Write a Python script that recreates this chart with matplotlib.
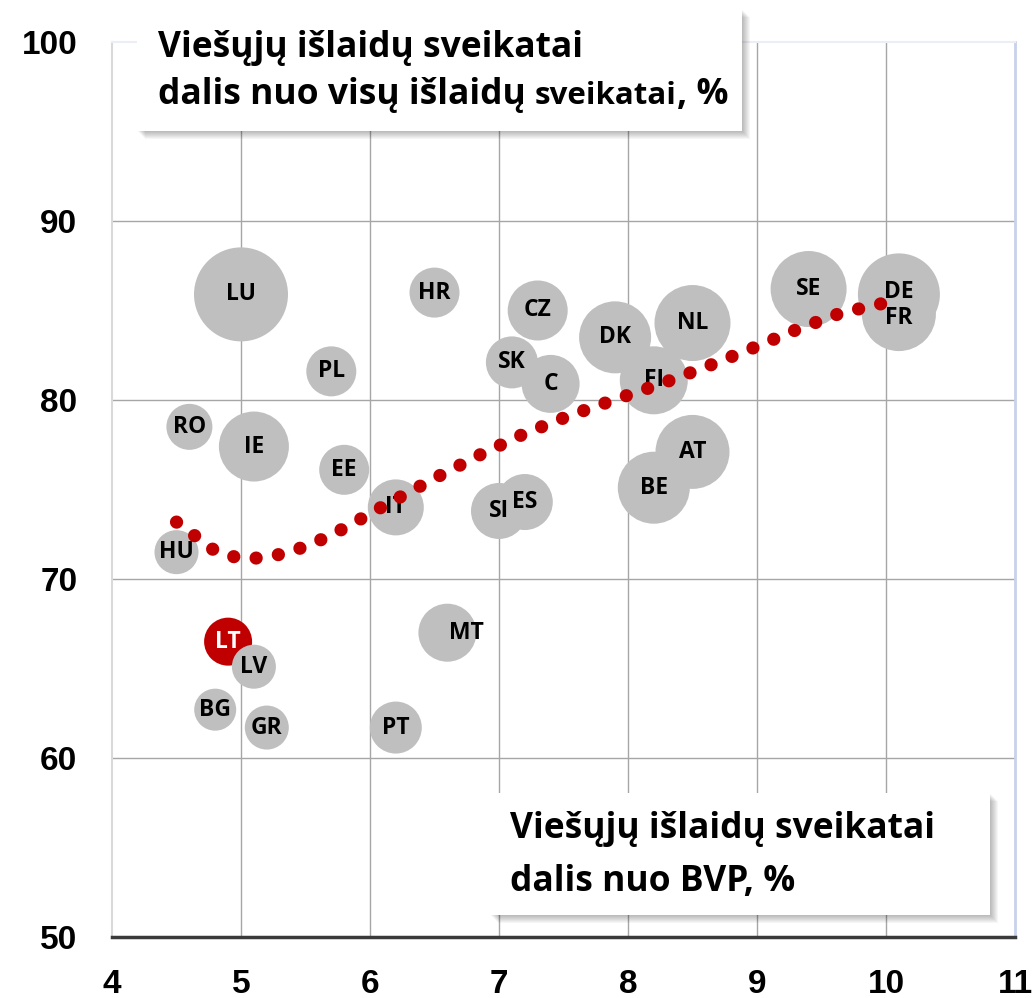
import numpy as np
import matplotlib
matplotlib.use('Agg')
import matplotlib.pyplot as plt
from matplotlib.patches import Rectangle

# country codes, x = public health spending % of GDP, y = public share of total health spending
countries = ['LU', 'HR', 'CZ', 'DK', 'NL', 'SK', 'C', 'FI', 'AT', 'BE', 'SI', 'ES',
             'SE', 'DE', 'FR', 'RO', 'IE', 'EE', 'PL', 'IT', 'HU', 'LT', 'LV', 'MT',
             'BG', 'GR', 'PT']
gdp_share = [5.0, 6.5, 7.3, 7.9, 8.5, 7.1, 7.4, 8.2, 8.5, 8.2, 7.0, 7.2,
             9.4, 10.1, 10.1, 4.6, 5.1, 5.8, 5.7, 6.2, 4.5, 4.9, 5.1, 6.6,
             4.8, 5.2, 6.2]
public_share = [85.9, 86.0, 85.0, 83.5, 84.3, 82.1, 80.9, 81.1, 77.1, 75.1, 73.8, 74.3,
                86.2, 85.9, 84.8, 78.5, 77.4, 76.1, 81.6, 74.0, 71.5, 66.5, 65.1, 67.0,
                62.7, 61.7, 61.7]
bubble_r = [47, 25, 30, 36, 38, 26, 29, 34, 37, 36, 28, 28,
            38, 41, 37, 23, 35, 25, 25, 28, 22, 24, 22, 29,
            21, 22, 26]

# polynomial trend line
trend_x = [4.50, 4.80, 4.98, 5.16, 5.35, 5.53, 5.70, 5.86, 6.02, 6.19, 6.52,
           6.85, 7.19, 7.54, 7.89, 8.25, 8.60, 8.95, 9.30, 9.65, 10.02]
trend_y = [73.18, 71.56, 71.17, 71.17, 71.45, 71.90, 72.46, 73.07, 73.74, 74.41, 75.70,
           76.93, 78.10, 79.11, 80.00, 80.89, 81.84, 82.85, 83.91, 84.86, 85.47]

x_ticks = [4, 5, 6, 7, 8, 9, 10, 11]
y_ticks = [50, 60, 70, 80, 90, 100]

W, H = 1033, 998
fig = plt.figure(figsize=(W / 100, H / 100), dpi=100)
ax = fig.add_axes([112 / W, 1 - 937 / H, (1015 - 112) / W, (937 - 42) / H])
ax.set_xlim(4, 11)
ax.set_ylim(50, 100)

# grid (inner lines only)
ax.vlines(x_ticks[1:-1], 50, 100, color='#A6A6A6', lw=1.0, zorder=0)
ax.hlines(y_ticks[1:-1], 4, 11, color='#A6A6A6', lw=1.0, zorder=0)

ax.spines['left'].set_color('#D9D9D9')
ax.spines['left'].set_linewidth(1.5)
ax.spines['bottom'].set_color('#3A3A3A')
ax.spines['bottom'].set_linewidth(2.5)
ax.spines['top'].set_color('#ECEEF5')
ax.spines['top'].set_linewidth(1.5)
ax.spines['right'].set_color('#C8D2EA')
ax.spines['right'].set_linewidth(2)

ax.set_xticks(x_ticks)
ax.set_yticks(y_ticks)
ax.tick_params(length=0, labelsize=24)
ax.tick_params(axis='x', pad=23)
ax.tick_params(axis='y', pad=25)
for lab in ax.get_xticklabels() + ax.get_yticklabels():
    lab.set_fontfamily('Liberation Sans')
    lab.set_fontweight('bold')

# bubbles
colors = ['#C00000' if c == 'LT' else '#BFBFBF' for c in countries]
sizes = [(1.44 * r) ** 2 for r in bubble_r]
ax.scatter(gdp_share, public_share, s=sizes, c=colors, linewidths=0, zorder=2)

label_shift = {'MT': (14, 0), 'DE': (0, 2), 'FR': (0, -3)}
for c, x, y in zip(countries, gdp_share, public_share):
    dx, dy = label_shift.get(c, (0, 0))
    ax.annotate(c, (x, y), xytext=(dx, dy), textcoords='offset points',
                ha='center', va='center', fontsize=16.5, fontweight='bold',
                family='Open Sans', color='white' if c == 'LT' else 'black', zorder=3)

# trend line
ax.plot(trend_x, trend_y, color='#C00000', lw=9.5, linestyle=(0, (0.01, 1.7)),
        dash_capstyle='round', zorder=4)


def text_box(x0, y0, x1, y1):
    # soft shadow to the lower right
    for i in range(8, 0, -1):
        fig.patches.append(Rectangle(((x0 + i) / W, 1 - (y1 + i) / H), (x1 - x0) / W, (y1 - y0) / H,
                                     transform=fig.transFigure, facecolor='black',
                                     alpha=0.035, edgecolor='none', zorder=5))
    fig.patches.append(Rectangle((x0 / W, 1 - y1 / H), (x1 - x0) / W, (y1 - y0) / H,
                                 transform=fig.transFigure, facecolor='white',
                                 edgecolor='none', zorder=6))


text_box(137, 9, 742, 131)
text_box(490, 793, 990, 915)

fs = 25.5
tkw = dict(family='Open Sans', fontweight='bold', va='baseline', ha='left', zorder=7)
fig.text(158 / W, 1 - 57 / H, 'Viešųjų išlaidų sveikatai', fontsize=fs, **tkw)
t1 = fig.text(158 / W, 1 - 104 / H, 'dalis nuo visų išlaidų ', fontsize=fs, **tkw)
fig.canvas.draw()
r = fig.canvas.get_renderer()
x2 = t1.get_window_extent(r).x1
t2 = fig.text(x2 / W, 1 - 104 / H, 'sveikatai', fontsize=fs - 3, **tkw)
x3 = t2.get_window_extent(r).x1
fig.text(x3 / W, 1 - 104 / H, ', %', fontsize=fs, **tkw)

fig.text(510 / W, 1 - 838 / H, 'Viešųjų išlaidų sveikatai', fontsize=fs, **tkw)
fig.text(510 / W, 1 - 891 / H, 'dalis nuo BVP, %', fontsize=fs, **tkw)

fig.savefig('out.png', dpi=100)
